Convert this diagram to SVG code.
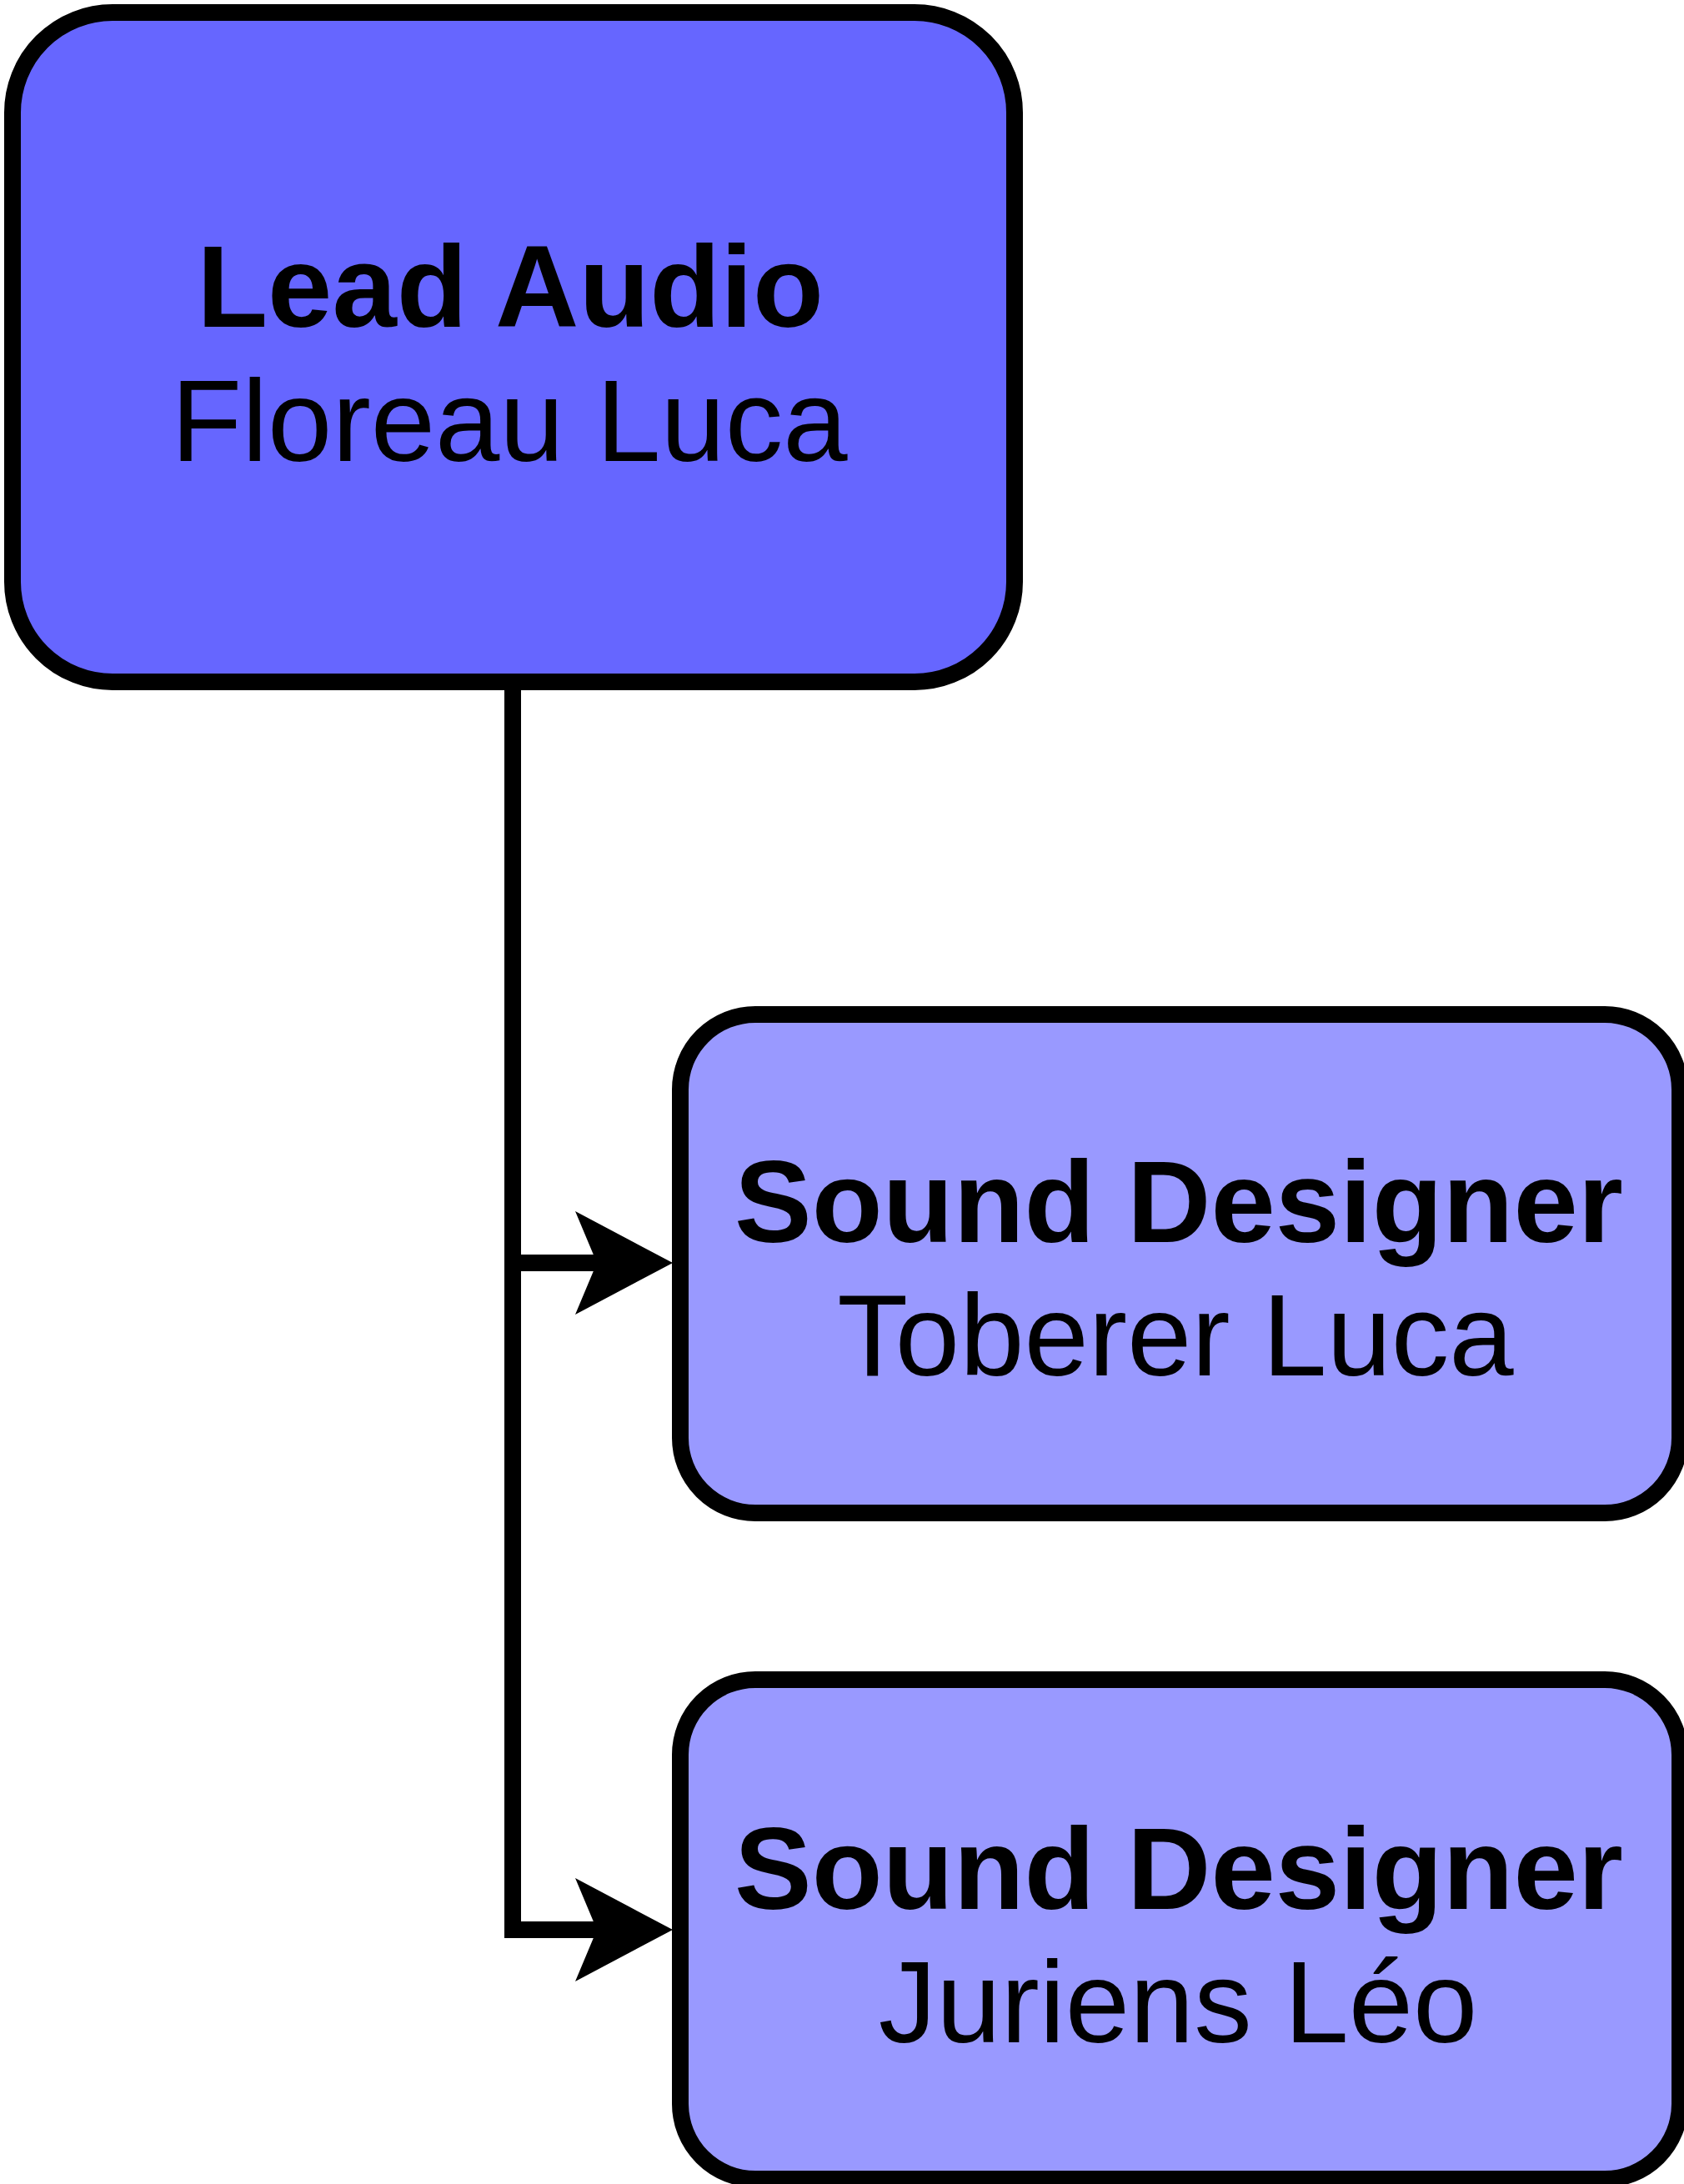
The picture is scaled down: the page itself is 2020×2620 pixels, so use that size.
<svg xmlns="http://www.w3.org/2000/svg" width="2020" height="2620" viewBox="0 0 2020 2620">
<style>
.box{stroke:#000;stroke-width:20}
.lead{fill:#6666ff}
.sd{fill:#9999ff}
.t{font-family:"Liberation Sans",Arial,sans-serif;font-size:139px;fill:#000;text-anchor:middle}
.b{font-weight:bold}
.edge{fill:none;stroke:#000;stroke-width:20;stroke-linejoin:miter}
.head{fill:#000;stroke:none}
</style>
<rect width="2020" height="2620" fill="#fff"/>
<g id="connectors">
<path class="edge" d="M615,815 L615,1515 L720,1515"/>
<polygon class="head" points="807,1515 690,1453 716,1515 690,1577"/>
<path class="edge" d="M615,815 L615,2315 L720,2315"/>
<polygon class="head" points="807,2315 690,2253 716,2315 690,2377"/>
</g>
<g id="lead-audio">
<rect class="box lead" x="15" y="15" width="1202" height="803" rx="120" ry="120"/>
<text class="t b" x="612" y="392">Lead Audio</text>
<text class="t" x="611" y="553">Floreau Luca</text>
</g>
<g id="sound-designer-1">
<rect class="box sd" x="816" y="1217" width="1199" height="598" rx="90" ry="90"/>
<text class="t b" x="1414" y="1490">Sound Designer</text>
<text class="t" x="1410" y="1650">Toberer Luca</text>
</g>
<g id="sound-designer-2">
<rect class="box sd" x="816" y="2015" width="1199" height="599" rx="90" ry="90"/>
<text class="t b" x="1414" y="2290">Sound Designer</text>
<text class="t" x="1413" y="2450">Juriens Léo</text>
</g>
</svg>
